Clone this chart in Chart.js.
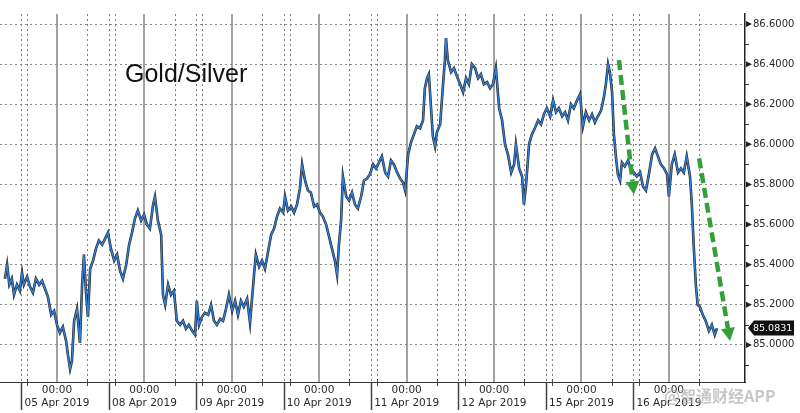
<!DOCTYPE html>
<html>
<head>
<meta charset="utf-8">
<script src="https://cdn.jsdelivr.net/npm/chart.js@4.4.1/dist/chart.umd.min.js"></script>
<style>
  html, body { margin: 0; padding: 0; background: #fff; }
</style>
</head>
<body>
<canvas id="ratioChart" width="800" height="413"></canvas>
<script>
// x = hours from 05 Apr 00:00 on the squeezed session axis, y = gold/silver ratio
const hours = [
  -14.3, -13.7, -13.1, -12.4, -11.8, -11.0, -10.2, -9.6, -9.1, -8.2, -7.4, -6.6, -5.8, -4.9, -4.1, -3.3,
  -2.5, -1.6, -0.8, 0, 0.8, 1.6, 2.5, 3.0, 3.6, 4.1, 4.7, 5.5, 6.3, 6.9, 7.4, 8.0, 8.5, 9.1, 9.9, 10.7,
  11.5, 12.4, 13.2, 14.0, 14.8, 15.7, 16.5, 17.3, 18.1, 19.0, 19.8, 20.6, 21.4, 22.2, 23.1, 23.9, 24.7,
  25.5, 26.4, 26.9, 27.7, 28.6, 29.1, 29.7, 30.5, 31.3, 32.1, 32.9, 33.8,
  34.6, 35.4, 36.2, 37.1, 37.9, 38.4, 39.0, 39.8, 40.6, 41.5, 42.3, 43.1, 43.9, 44.8, 45.6, 46.4, 47.2,
  48.1, 48.9, 49.7, 50.5, 51.3, 52.2, 53.0, 53.5, 54.1, 54.6, 55.5, 56.3, 57.1, 57.9, 58.8, 59.6, 60.4,
  61.2, 62.1, 62.6, 63.4, 64.3, 65.1, 65.9, 66.7, 67.3, 68.1, 68.9, 69.7, 70.6, 71.4, 72.2, 73.0, 73.9,
  74.7, 75.5, 76.3, 76.9, 77.4, 78.0, 78.5, 79.4, 80.2, 81.0, 81.8, 82.6, 83.5, 84.3, 85.1, 85.9, 86.8, 87.6,
  88.4, 89.2, 90.1, 90.9, 91.7, 92.5, 93.4, 94.2, 95.0, 95.6, 96.4, 97.2, 98.0, 98.8, 99.7, 100.5, 101.0,
  101.6, 102.1, 102.7, 103.2, 103.8, 104.3, 105.2, 106.0, 106.5, 106.8, 107.3, 108.2, 109.0, 109.8, 110.7,
  111.5, 112.3, 113.1, 113.9, 114.8, 115.6, 116.4, 117.2, 118.1, 118.9, 119.7, 120.5, 121.4, 122.2, 123.0,
  123.8, 124.7, 125.5, 126.0, 126.9, 127.7, 128.2, 128.8, 129.6, 130.4, 131.2, 132.1, 132.9, 133.7, 134.5,
  135.4, 136.2, 137.0, 137.8, 138.7,
  139.5, 140.3, 141.1, 141.9, 142.8, 143.6, 144.4, 145.2, 146.1, 146.9, 147.7, 148.5, 149.4, 150.2, 150.7,
  151.3, 151.8, 152.4, 152.9, 153.5, 154.0, 154.6, 155.1, 155.9, 156.8, 157.6, 158.4, 159.2, 160.1, 160.9,
  161.7, 162.5, 163.4, 164.2, 165.0, 165.8, 166.7, 167.5, 168.0, 168.8, 169.6, 170.5, 171.3, 172.1, 172.9,
  173.8, 174.3, 174.8, 175.4, 175.9, 176.5, 177.3, 178.1, 179.0, 179.8, 180.6, 181.2
];
const ratio = [
  85.33, 85.40, 85.30, 85.33, 85.25, 85.30, 85.27, 85.36, 85.30, 85.34, 85.29, 85.26, 85.33, 85.30, 85.32, 85.28,
  85.24, 85.15, 85.17, 85.10, 85.06, 85.09, 85.02, 84.95, 84.88, 84.92, 85.12, 85.18, 85.01, 85.30, 85.45, 85.25,
  85.14, 85.38, 85.42, 85.48, 85.52, 85.50, 85.53, 85.56, 85.48, 85.42, 85.45, 85.37, 85.33, 85.40, 85.50, 85.56,
  85.63, 85.67, 85.62, 85.65, 85.60, 85.58, 85.70, 85.74, 85.62, 85.55, 85.25, 85.20, 85.30, 85.25, 85.27, 85.12, 85.10,
  85.12, 85.08, 85.10, 85.07, 85.05, 85.22, 85.10, 85.14, 85.16, 85.15, 85.20, 85.12, 85.10, 85.13, 85.12, 85.18,
  85.25, 85.17, 85.22, 85.15, 85.22, 85.19, 85.23, 85.11, 85.22, 85.35, 85.45, 85.39, 85.42, 85.38, 85.46, 85.55,
  85.58, 85.64, 85.68, 85.66, 85.74, 85.67, 85.69, 85.66, 85.70, 85.78, 85.90, 85.82, 85.77, 85.76, 85.69, 85.70,
  85.66, 85.64, 85.60, 85.54, 85.48, 85.42, 85.35, 85.50, 85.62, 85.84, 85.74, 85.72, 85.76, 85.70, 85.68, 85.74,
  85.82, 85.83, 85.85, 85.90, 85.88,
  85.91, 85.94, 85.86, 85.84, 85.92, 85.90, 85.86, 85.83, 85.81, 85.77, 85.95, 86.01, 86.05, 86.09, 86.08, 86.12,
  86.28, 86.33, 86.35, 86.18, 86.04, 85.99, 86.06, 86.10, 86.30, 86.42, 86.53, 86.42, 86.36, 86.38, 86.34, 86.30,
  86.26, 86.33, 86.30, 86.40, 86.38, 86.33, 86.35, 86.30, 86.31, 86.28, 86.30, 86.38, 86.18, 86.12, 86.00, 85.95,
  85.86, 85.90, 86.00, 85.88, 85.84, 85.70, 85.80, 86.00, 86.05, 86.08, 86.12, 86.10, 86.15, 86.18, 86.14, 86.22,
  86.16, 86.18, 86.14,
  86.16, 86.12, 86.20, 86.18, 86.22, 86.25, 86.09, 86.16, 86.12, 86.15, 86.11, 86.14, 86.17, 86.24, 86.30, 86.40,
  86.36, 86.26, 86.05, 85.93, 85.85, 85.82, 85.91, 85.89, 85.92, 85.87, 85.86, 85.84, 85.86, 85.79, 85.77, 85.85,
  85.95, 85.98, 85.94, 85.90, 85.88, 85.85, 85.74, 85.90, 85.95, 85.86, 85.88, 85.86, 85.94, 85.84, 85.70, 85.50,
  85.30, 85.20, 85.19, 85.15, 85.12, 85.07, 85.10, 85.05, 85.0831
];
const dayStarts = [0, 24, 48, 72, 96, 120, 144, 168];
const dayLabels = ['05 Apr 2019', '08 Apr 2019', '09 Apr 2019', '10 Apr 2019',
                   '11 Apr 2019', '12 Apr 2019', '15 Apr 2019', '16 Apr 2019'];
const yTicks = [85.0, 85.2, 85.4, 85.6, 85.8, 86.0, 86.2, 86.4, 86.6];
const lastPrice = 85.0831;

const sessionMarks = [-9.8, -8.1, 8.3];   // dotted session lines around each day start
const trendArrows = [[154.3, 86.42, 158.4, 85.75], [176.3, 85.93, 184.8, 85.02]];

const points = hours.map((h, i) => ({ x: h, y: ratio[i] }));

function drawArrow(ctx, x1, y1, x2, y2) {
  const ang = Math.atan2(y2 - y1, x2 - x1);
  const head = 13;
  const bx = x2 - head * Math.cos(ang), by = y2 - head * Math.sin(ang);
  ctx.save();
  ctx.strokeStyle = '#34a038';
  ctx.fillStyle = '#34a038';
  ctx.lineWidth = 4.5;
  ctx.setLineDash([10, 5]);
  ctx.beginPath(); ctx.moveTo(x1, y1); ctx.lineTo(bx, by); ctx.stroke();
  ctx.setLineDash([]);
  ctx.beginPath();
  ctx.moveTo(x2, y2);
  ctx.lineTo(bx + 7 * Math.sin(ang), by - 7 * Math.cos(ang));
  ctx.lineTo(bx - 7 * Math.sin(ang), by + 7 * Math.cos(ang));
  ctx.closePath(); ctx.fill();
  ctx.restore();
}

const decor = {
  id: 'decor',
  beforeDatasetsDraw(chart) {
    const { ctx, chartArea: a, scales: { x } } = chart;
    ctx.save();
    ctx.strokeStyle = '#7d7d7d';
    ctx.lineWidth = 1;
    ctx.setLineDash([2, 3]);
    dayStarts.forEach(d => {
      sessionMarks.forEach(m => {
        const px = Math.round(x.getPixelForValue(d + m)) + 0.5;
        if (px < a.left || px > a.right) return;
        ctx.beginPath(); ctx.moveTo(px, a.top); ctx.lineTo(px, a.bottom); ctx.stroke();
      });
    });
    ctx.restore();
  },
  afterDraw(chart) {
    const { ctx, chartArea: a, scales: { x, y } } = chart;
    ctx.save();

    // day separators and small ticks under the time axis
    ctx.strokeStyle = '#444';
    dayStarts.forEach(d => {
      const sx = Math.round(x.getPixelForValue(d - 9.8)) + 0.5;
      ctx.lineWidth = 1.5;
      ctx.beginPath(); ctx.moveTo(sx, a.bottom); ctx.lineTo(sx, a.bottom + 28); ctx.stroke();
      ctx.lineWidth = 1;
      [-8.1, 8.3].forEach(m => {
        const px = Math.round(x.getPixelForValue(d + m)) + 0.5;
        if (px > a.right) return;
        ctx.beginPath(); ctx.moveTo(px, a.bottom - 3); ctx.lineTo(px, a.bottom + 4); ctx.stroke();
      });
    });

    // pointer marks and minor ticks on the price axis
    ctx.fillStyle = '#222';
    yTicks.forEach(v => {
      const py = y.getPixelForValue(v);
      ctx.beginPath();
      ctx.moveTo(a.right + 1, py - 3); ctx.lineTo(a.right + 7, py); ctx.lineTo(a.right + 1, py + 3);
      ctx.closePath(); ctx.fill();
    });
    ctx.strokeStyle = '#333';
    ctx.lineWidth = 1;
    [yTicks[0] - 0.1].concat(yTicks.slice(1).map((v, i) => (v + yTicks[i]) / 2)).forEach(v => {
      const py = Math.round(y.getPixelForValue(v)) + 0.5;
      ctx.beginPath(); ctx.moveTo(a.right, py); ctx.lineTo(a.right + 4, py); ctx.stroke();
    });

    // last price tag
    const ly = Math.round(y.getPixelForValue(lastPrice));
    ctx.fillStyle = '#111';
    ctx.beginPath();
    ctx.moveTo(a.right + 3, ly);
    ctx.lineTo(a.right + 9, ly - 7.5);
    ctx.lineTo(a.right + 49, ly - 7.5);
    ctx.lineTo(a.right + 49, ly + 7.5);
    ctx.lineTo(a.right + 9, ly + 7.5);
    ctx.closePath(); ctx.fill();
    ctx.fillStyle = '#fff';
    ctx.font = '9.5px "DejaVu Sans"';
    ctx.textBaseline = 'middle';
    ctx.fillText(lastPrice.toFixed(4), a.right + 8, ly + 0.5);

    // trend arrows
    trendArrows.forEach(([x1, y1, x2, y2]) => {
      drawArrow(ctx, x.getPixelForValue(x1), y.getPixelForValue(y1),
                x.getPixelForValue(x2), y.getPixelForValue(y2));
    });

    // title inside the plot
    ctx.fillStyle = '#111';
    ctx.font = '25px "Liberation Sans"';
    ctx.textBaseline = 'alphabetic';
    ctx.fillText('Gold/Silver', 125, 82);

    // watermark
    ctx.font = 'bold 16px "Noto Sans CJK SC"';
    ctx.fillStyle = 'rgba(175,175,175,0.7)';
    ctx.fillText('@智通财经APP', 664, 402);
    ctx.restore();
  }
};

new Chart(document.getElementById('ratioChart'), {
  type: 'line',
  data: {
    datasets: [
      // dataset 0 is painted last, so the blue close line sits on the dark bar outline
      { data: points, borderColor: '#2f80db', borderWidth: 1.4, pointRadius: 0, tension: 0 },
      { data: points, borderColor: '#262626', borderWidth: 2.6, pointRadius: 0, tension: 0 }
    ]
  },
  options: {
    responsive: false,
    animation: false,
    events: [],
    layout: { padding: 0 },
    plugins: { legend: { display: false }, tooltip: { enabled: false }, title: { display: false } },
    scales: {
      x: {
        type: 'linear',
        min: -15.65,
        max: 188.9,
        afterBuildTicks: s => { s.ticks = dayStarts.map(v => ({ value: v })); },
        afterFit: s => { s.height = 31; },
        grid: { color: '#a2a2a2', lineWidth: 2, drawTicks: false },
        border: { color: '#333', width: 1 },
        ticks: {
          autoSkip: false, maxRotation: 0, padding: 2, color: '#2a2a2a',
          font: { family: 'DejaVu Sans', size: 10.5 }, lineHeight: 1.25,
          callback: (v, i) => ['00:00', dayLabels[i]]
        }
      },
      y: {
        position: 'right',
        min: 84.815,
        max: 86.65,
        afterBuildTicks: s => { s.ticks = yTicks.map(v => ({ value: v })); },
        afterFit: s => { s.width = 55; },
        grid: { color: '#8a8a8a', lineWidth: 1, drawTicks: false },
        border: { color: '#222', width: 1.5, dash: [2, 3] },
        ticks: {
          padding: 8, color: '#2a2a2a',
          font: { family: 'DejaVu Sans', size: 10 },
          callback: v => v.toFixed(4)
        }
      }
    }
  },
  plugins: [decor]
});
</script>
</body>
</html>
